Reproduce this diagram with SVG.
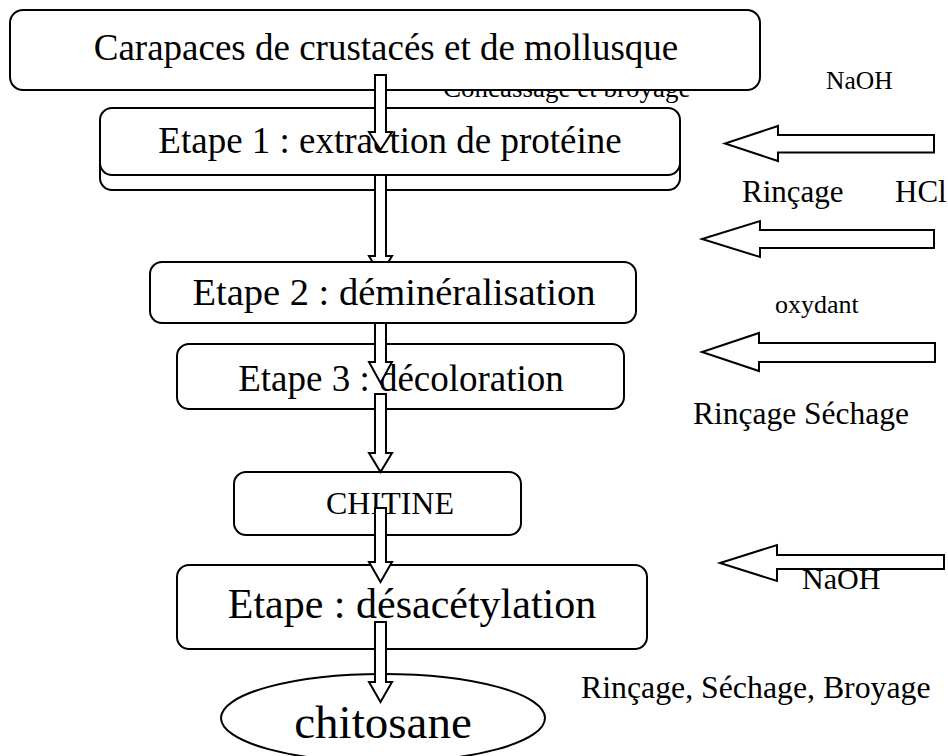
<svg xmlns="http://www.w3.org/2000/svg" width="948" height="756" viewBox="0 0 948 756">
<style>
.box{fill:#fff;stroke:#000;stroke-width:2}
.arr{fill:#fff;stroke:#000;stroke-width:2;stroke-linejoin:miter}
.t{font-family:"Liberation Serif","Times New Roman",serif;fill:#000}
.c{text-anchor:middle}
</style>
<rect width="948" height="756" fill="#fff"/>
<g id="label-concassage"><text class="t" x="443" y="97" font-size="27">Concassage et broyage</text></g>
<g id="node-carapaces">
<rect class="box" x="10" y="10" width="750" height="80" rx="13"/>
<text class="t c" x="386" y="60" font-size="37">Carapaces de crustacés et de mollusque</text>
</g>
<g id="node-etape1">
<rect class="box" x="100" y="122" width="580" height="68" rx="12"/>
<rect class="box" x="100" y="108" width="580" height="67" rx="12"/>
<text class="t c" x="390" y="153" font-size="37">Etape 1 : extraction de protéine</text>
</g>
<g id="node-etape2">
<rect class="box" x="150" y="262" width="486" height="61" rx="12"/>
<text class="t c" x="394" y="305" font-size="38.5">Etape 2 : déminéralisation</text>
</g>
<g id="node-etape3">
<rect class="box" x="177" y="344" width="447" height="65" rx="12"/>
<text class="t c" x="401" y="391" font-size="37">Etape 3 : décoloration</text>
</g>
<g id="node-chitine">
<rect class="box" x="234" y="472" width="287" height="63" rx="12"/>
<text class="t c" x="390" y="514" font-size="32">CHITINE</text>
</g>
<g id="node-desacetylation">
<rect class="box" x="177" y="565" width="470" height="84" rx="12"/>
<text class="t c" x="412" y="618" font-size="42">Etape : désacétylation</text>
</g>
<g id="node-chitosane">
<ellipse class="box" cx="383" cy="718" rx="162" ry="44"/>
<text class="t c" x="383" y="738" font-size="47">chitosane</text>
</g>
<g id="labels">
<text class="t" x="826" y="89" font-size="25.5">NaOH</text>
<text class="t" x="742" y="202" font-size="31">Rinçage</text>
<text class="t" x="895" y="202" font-size="31">HCl</text>
<text class="t" x="775" y="313" font-size="26">oxydant</text>
<text class="t" x="693" y="424" font-size="31.5">Rinçage Séchage</text>
<text class="t" x="802" y="589" font-size="30">NaOH</text>
<text class="t" x="581" y="698" font-size="31.8">Rinçage, Séchage, Broyage</text>
</g>
<g id="connectors">
<polygon class="arr" points="375,75 386,75 386,132 392,132 380.5,150 369,132 375,132"/>
<polygon class="arr" points="375,175 386,175 386,256 392,256 388.4,262 372.6,262 369,256 375,256"/>
<polygon class="arr" points="375,323 386,323 386,362 392,362 380.5,383 369,362 375,362"/>
<polygon class="arr" points="375,394 386,394 386,453 392,453 380.5,472 369,453 375,453"/>
<polygon class="arr" points="375,508 386,508 386,562 392,562 380.5,582 369,562 375,562"/>
<polygon class="arr" points="375,622 386,622 386,682 392,682 380.5,702 369,682 375,682"/>
<polygon class="arr" points="934,135 778,135 778,126 725,143.5 778,161 778,152.5 934,152.5"/>
<polygon class="arr" points="934,230 760,230 760,221 702,239 760,257 760,248 934,248"/>
<polygon class="arr" points="935,343 759,343 759,333 702,352 759,371 759,362 935,362"/>
<polygon class="arr" points="944,555 777,555 777,545 720,563 777,581 777,569 944,569"/>
</g>
</svg>
